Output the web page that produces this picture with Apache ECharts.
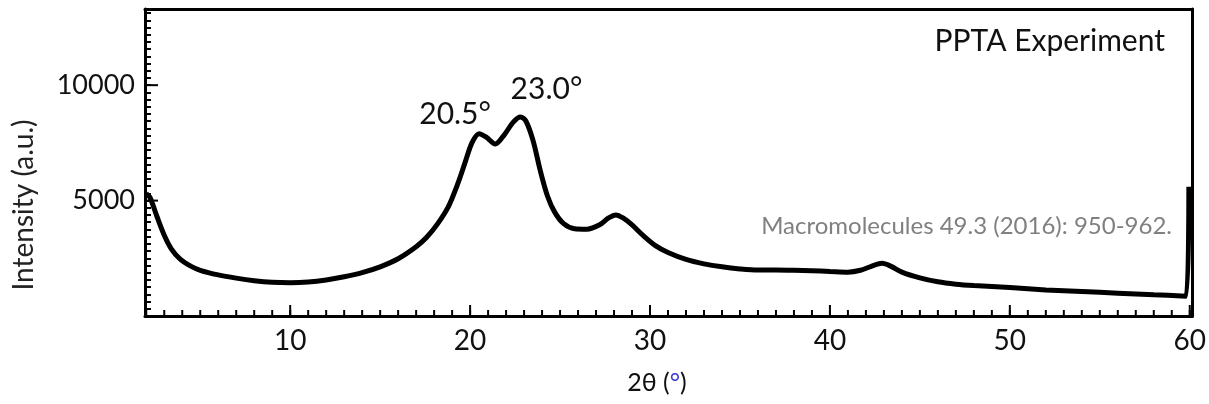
<!DOCTYPE html>
<html>
<head>
<meta charset="utf-8">
<script src="https://cdn.jsdelivr.net/npm/echarts@6/dist/echarts.min.js"></script>
<style>
  html, body { margin: 0; padding: 0; background: #fff; }
  #xrdChart { width: 1209px; height: 404px; }
</style>
</head>
<body>
<div id="xrdChart"></div>
<script>
// XRD pattern, PPTA

var twoTheta = [2.0, 2.2, 2.6, 3.0, 3.4, 3.9, 4.5, 5.0, 6.0, 7.0, 8.0, 9.0, 10.0, 11.0, 12.0, 13.0, 14.0, 15.0,
    16.0, 17.0, 17.6, 18.2, 18.8, 19.3, 19.7, 20.1, 20.5, 20.9, 21.4, 21.9, 22.4, 22.8, 23.1, 23.5, 23.9, 24.3,
    24.7, 25.2, 25.8, 26.5, 27.2, 27.7, 28.1, 28.5, 29.0, 29.6, 30.3, 31.0, 32.0, 33.0, 34.0, 35.0, 36.0, 37.0,
    38.0, 39.0, 40.0, 41.0, 41.7, 42.3, 42.9, 43.4, 44.0, 45.0, 46.0, 47.0, 48.0, 50.0, 52.0, 54.0, 56.0, 58.0,
    59.8, 59.95];
var intensity = [5300, 5150, 4300, 3500, 2900, 2450, 2150, 1980, 1780, 1640, 1530, 1460, 1440, 1470, 1560, 1700, 1880, 2130,
    2480, 3000, 3420, 4000, 4750, 5700, 6600, 7500, 7900, 7750, 7450, 7850, 8400, 8620, 8450, 7600, 6300, 5200,
    4500, 4000, 3780, 3760, 3950, 4250, 4380, 4250, 3950, 3500, 3050, 2750, 2450, 2260, 2130, 2040, 1990, 1990,
    1980, 1960, 1930, 1900, 1980, 2150, 2280, 2150, 1900, 1650, 1480, 1380, 1320, 1230, 1130, 1060, 990, 920,
    860, 5600];

var xLabels = [10, 20, 30, 40, 50, 60];
var yLabels = [5000, 10000];
var peakNames = ['20.5°', '23.0°'];
var peakAt = [[20.5, 7900], [22.8, 8620]];

var xMinor = [];
for (var i = 2; i <= 60; i++) xMinor.push(i);
var yMinor = [];
for (var v = 0; v <= 13300; v += 312.5) yMinor.push(v);

var font = 'Lato';
var xRange = { min: 1.93, max: 60.15 };
var yRange = { min: 0, max: 13300 };
var myChart = echarts.init(document.getElementById('xrdChart'));

function plain(val) { return String(val); }

// bare axis for the top / right frame edge
function frameAxis(range, pos) {
    return {
        type: 'value', min: range.min, max: range.max, position: pos,
        axisLine: { show: true, onZero: false, lineStyle: { color: '#000', width: 3 } },
        axisTick: { show: false },
        axisLabel: { show: false },
        splitLine: { show: false }
    };
}

var texts = [
    {
        type: 'text', right: 44, top: 26,
        style: { text: 'PPTA Experiment', fontSize: 30, fontFamily: font, fill: '#111' }
    },
    {
        type: 'text', right: 37, top: 214,
        style: { text: 'Macromolecules 49.3 (2016): 950-962.', fontSize: 24, fontFamily: font, fill: '#808080' }
    },
    {
        type: 'text', x: 24, y: 205, rotation: Math.PI / 2,
        style: { text: 'Intensity (a.u.)', fontSize: 28, fontFamily: font, fill: '#222', align: 'center', verticalAlign: 'middle' }
    },
    {
        type: 'text', x: 657, y: 383,
        style: {
            text: '2θ ({d|°})', fontSize: 25, fontFamily: font, fill: '#111', align: 'center', verticalAlign: 'middle',
            rich: { d: { fontSize: 25, fontFamily: font, fill: '#3a3ad0' } }
        }
    }
];

var option = {
    animation: false,
    textStyle: { fontFamily: font },
    grid: { left: 145, right: 13, top: 9, bottom: 88 },
    xAxis: [
        {
            type: 'value', min: xRange.min, max: xRange.max, position: 'bottom',
            axisLine: { show: true, onZero: false, lineStyle: { color: '#000', width: 3 } },
            axisTick: { show: false },
            axisLabel: { customValues: xLabels, color: '#111', fontSize: 28, margin: 11, formatter: plain },
            splitLine: { show: false }
        },
        frameAxis(xRange, 'top')
    ],
    yAxis: [
        {
            type: 'value', min: yRange.min, max: yRange.max, position: 'left',
            axisLine: { show: true, onZero: false, lineStyle: { color: '#000', width: 3 } },
            axisTick: { show: true, inside: true, length: 6, customValues: yMinor, lineStyle: { color: '#000', width: 2 } },
            axisLabel: { customValues: yLabels, color: '#111', fontSize: 27, margin: 10, formatter: plain },
            splitLine: { show: false }
        },
        frameAxis(yRange, 'right')
    ],
    series: [
        {
            type: 'line',
            data: twoTheta.map(function (t, i) { return [t, intensity[i]]; }),
            showSymbol: false,
            smooth: 0.3,
            lineStyle: { color: '#000', width: 5 },
            markPoint: {
                symbol: 'circle', symbolSize: 0,
                label: { show: true, color: '#111', fontSize: 30, fontFamily: font },
                data: [
                    { coord: peakAt[0], value: peakNames[0], label: { formatter: peakNames[0], offset: [-24, -19] } },
                    { coord: peakAt[1], value: peakNames[1], label: { formatter: peakNames[1], offset: [26, -28] } }
                ]
            }
        }
    ],
    graphic: texts
};

myChart.setOption(option);

// inward tick marks placed through the chart's own scales
function tickLine(p, dx, dy, w) {
    return {
        type: 'line', silent: true, z: 10,
        shape: { x1: p[0], y1: p[1], x2: p[0] + dx, y2: p[1] + dy },
        style: { stroke: '#000', lineWidth: w }
    };
}

function addTicks() {
    var marks = [];
    var toPx = function (pt) { return myChart.convertToPixel({ xAxisIndex: 0, yAxisIndex: 0 }, pt); };
    xMinor.forEach(function (t) { marks.push(tickLine(toPx([t, yRange.min]), 0, -6, 2)); });
    xLabels.forEach(function (t) { marks.push(tickLine(toPx([t, yRange.min]), 0, -11, 2)); });
    yLabels.forEach(function (y) { marks.push(tickLine(toPx([xRange.min, y]), 13, 0, 2)); });
    myChart.setOption({ graphic: texts.concat(marks) });
}
addTicks();

window.addEventListener('resize', function () {
    myChart.resize();
    addTicks();
});
</script>
</body>
</html>
